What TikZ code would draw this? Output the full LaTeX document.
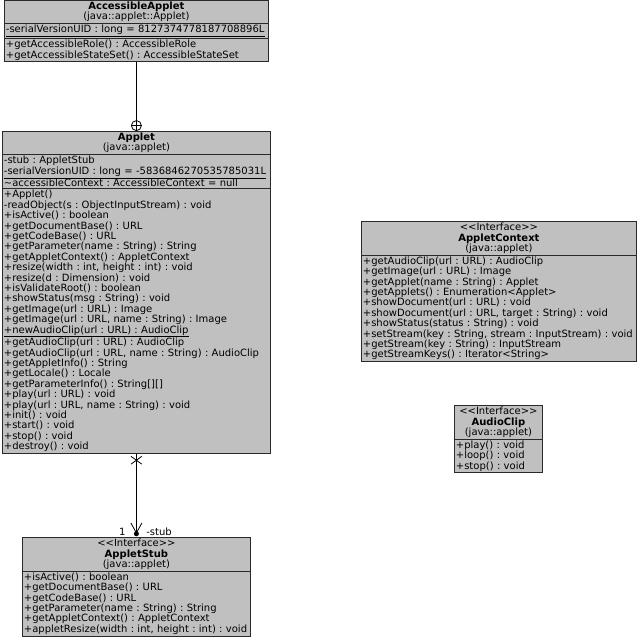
\documentclass[tikz,border=0pt]{standalone}
\usepackage{fontspec}
\setmainfont{DejaVu Sans}
\usetikzlibrary{positioning, shapes.multipart, shapes.misc, arrows.meta}
\definecolor{classFill}{HTML}{C0C0C0}
\definecolor{classLine}{HTML}{2A2A2A}
\newcommand{\stereo}{\mbox{<}\mbox{<}Interface\mbox{>}\mbox{>}}
\newcommand{\hd}[1]{\makebox[\linewidth]{#1}}
\frenchspacing

\tikzset{
    umlclass/.style={rectangle split, rectangle split parts=3, draw=classLine,
        fill=classFill, line width=0.8pt, anchor=north west, inner xsep=1.5pt,
        inner ysep=1.2pt, align=left, font=\fontsize{10}{10.4}\selectfont\frenchspacing},
    umliface/.style={umlclass, rectangle split parts=2},
    connector/.style={draw=black, line width=0.8pt},
    lbl/.style={inner sep=0pt, font=\fontsize{10}{10.4}\selectfont}
}

\begin{document}
\begin{tikzpicture}[x=1pt, y=-1pt]
    \useasboundingbox (0,0) rectangle (640,640);
    \fill[white] (0,0) rectangle (640,640);
    % classes
    \node[umlclass, text width=261pt] (accapplet) at (4,0) {\hd{\textbf{AccessibleApplet}}\\\hd{(java::applet::Applet)}
        \nodepart{two}\underline{-serialVersionUID : long = 8127374778187708896L}
        \nodepart{three}+getAccessibleRole() : AccessibleRole\\
        +getAccessibleStateSet() : AccessibleStateSet};
    \node[umlclass, text width=265pt] (applet) at (2,131) {\hd{\textbf{Applet}}\\\hd{(java::applet)}
        \nodepart{two}-stub : AppletStub\\
        \underline{-serialVersionUID : long = -5836846270535785031L}\\
        \textasciitilde accessibleContext : AccessibleContext = null
        \nodepart{three}+Applet()\\
        -readObject(s : ObjectInputStream) : void\\
        +isActive() : boolean\\
        +getDocumentBase() : URL\\
        +getCodeBase() : URL\\
        +getParameter(name : String) : String\\
        +getAppletContext() : AppletContext\\
        +resize(width : int, height : int) : void\\
        +resize(d : Dimension) : void\\
        +isValidateRoot() : boolean\\
        +showStatus(msg : String) : void\\
        +getImage(url : URL) : Image\\
        +getImage(url : URL, name : String) : Image\\
        \underline{+newAudioClip(url : URL) : AudioClip}\\
        +getAudioClip(url : URL) : AudioClip\\
        +getAudioClip(url : URL, name : String) : AudioClip\\
        +getAppletInfo() : String\\
        +getLocale() : Locale\\
        +getParameterInfo() : String[][]\\
        +play(url : URL) : void\\
        +play(url : URL, name : String) : void\\
        +init() : void\\
        +start() : void\\
        +stop() : void\\
        +destroy() : void};
    \node[umliface, text width=225pt] (stub) at (22,537) {\hd{\stereo}\\\hd{\textbf{AppletStub}}\\\hd{(java::applet)}
        \nodepart{two}+isActive() : boolean\\
        +getDocumentBase() : URL\\
        +getCodeBase() : URL\\
        +getParameter(name : String) : String\\
        +getAppletContext() : AppletContext\\
        +appletResize(width : int, height : int) : void};
    \node[umliface, text width=272pt] (context) at (361,221) {\hd{\stereo}\\\hd{\textbf{AppletContext}}\\\hd{(java::applet)}
        \nodepart{two}+getAudioClip(url : URL) : AudioClip\\
        +getImage(url : URL) : Image\\
        +getApplet(name : String) : Applet\\
        +getApplets() : Enumeration<Applet>\\
        +showDocument(url : URL) : void\\
        +showDocument(url : URL, target : String) : void\\
        +showStatus(status : String) : void\\
        +setStream(key : String, stream : InputStream) : void\\
        +getStream(key : String) : InputStream\\
        +getStreamKeys() : Iterator<String>};
    \node[umliface, text width=85pt] (audioclip) at (454,405) {\hd{\stereo}\\\hd{\textbf{AudioClip}}\\\hd{(java::applet)}
        \nodepart{two}+play() : void\\
        +loop() : void\\
        +stop() : void};
    % nesting: AccessibleApplet inside Applet
    \node[circle, draw=black, fill=white, line width=0.8pt, minimum size=10pt,
        inner sep=0pt, above=0pt of applet.north] (nest) {};
    \draw[connector] (accapplet.south) -- (nest.north);
    \draw[connector] (nest.west) -- (nest.east) (nest.north) -- (nest.south);
    % association Applet -> AppletStub
    \node[cross out, draw=black, line width=0.8pt, minimum width=10pt, minimum height=7pt,
        inner sep=0pt, below=2.5pt of applet.south] (nonav) {};
    \node[circle, fill=black, minimum size=5pt, inner sep=0pt,
        above=0.5pt of stub.north] (owner) {};
    \draw[connector, -{Straight Barb[length=10pt, width=11pt]}] (applet.south) -- (owner.center);
    \node[lbl, left=8pt of owner, yshift=2pt] (mult) {1};
    \node[lbl, right=7pt of owner, yshift=2pt] (role) {-stub};
\end{tikzpicture}
\end{document}
